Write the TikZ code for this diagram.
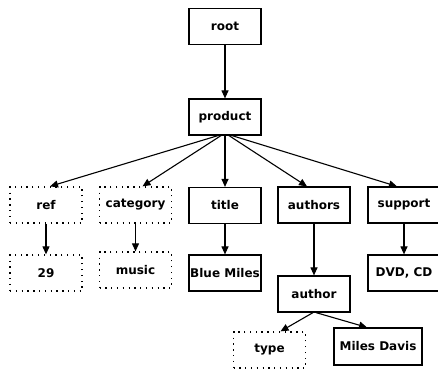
\documentclass[tikz,border=0pt]{standalone}
\usepackage{fontspec}
\setmainfont{DejaVu Sans}
\usetikzlibrary{arrows.meta,calc}
\tikzset{
  box/.style={draw, line width=1.2pt, minimum width=72pt, minimum height=36pt, inner sep=0pt,
              font=\fontsize{12}{12}\selectfont\bfseries},
  optbox/.style={box, line width=1.3pt, dash pattern=on 1.3pt off 4.5pt},
  arr/.style={line width=1.1pt, -{Triangle[length=8pt,width=7pt]}}
}
\begin{document}
\begin{tikzpicture}[x=1pt,y=-1pt]
\useasboundingbox (0,0) rectangle (438,370);
\node[box] (root) at (225,26.5) {root};
\node[box] (product) at (225,117) {product};
\node[optbox] (ref) at (46,205) {ref};
\node[optbox] (category) at (135.5,205) {category};
\node[box] (title) at (225,205.5) {title};
\node[box] (authors) at (314,205) {authors};
\node[box] (support) at (404,205) {support};
\node[optbox] (v29) at (46,273) {29};
\node[optbox] (music) at (135.5,270) {music};
\node[box] (blue) at (225,273) {Blue Miles};
\node[box] (dvd) at (404,273) {DVD, CD};
\node[box] (author) at (314,294) {author};
\node[optbox] (type) at (269.5,350) {type};
\node[box, minimum width=88pt, minimum height=37pt] (miles) at (378,346.5) {Miles Davis};
\draw[arr] (root) -- (product);
\draw[arr] ([xshift=-7pt]product.south) -- ([xshift=4pt]ref.north);
\draw[arr] ([xshift=-4pt]product.south) -- ([xshift=7pt]category.north);
\draw[arr] (product.south) -- (title.north);
\draw[arr] ([xshift=4pt]product.south) -- ([xshift=-7pt]authors.north);
\draw[arr] ([xshift=7pt]product.south) -- ([xshift=-7pt]support.north);
\draw[arr] (ref) -- (v29);
\draw[arr] (category) -- (music);
\draw[arr] (title) -- (blue);
\draw[arr] (support) -- (dvd);
\draw[arr] (authors) -- (author);
\draw[arr] ([xshift=-1pt]author.south) -- ([xshift=11pt]type.north);
\draw[arr] ([xshift=2pt]author.south) -- ([xshift=-11pt]miles.north);
\end{tikzpicture}
\end{document}
